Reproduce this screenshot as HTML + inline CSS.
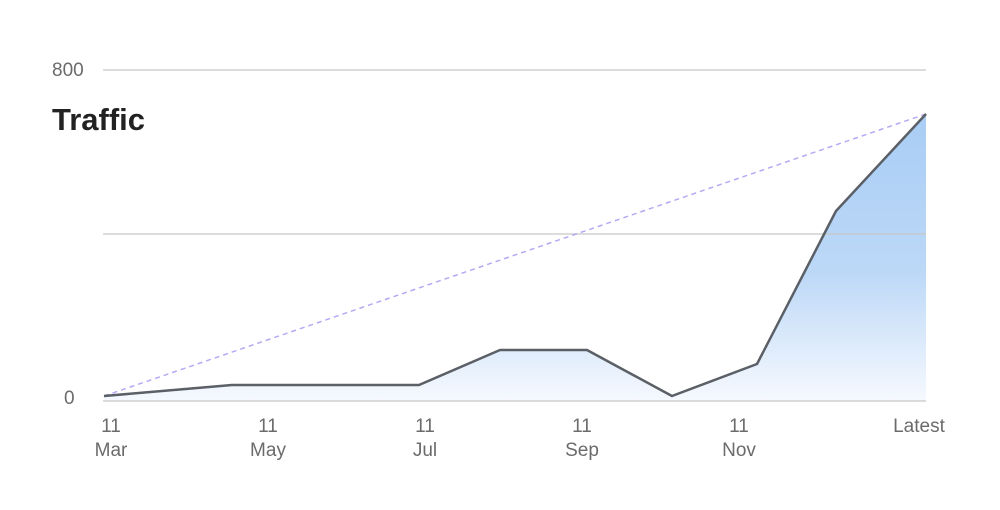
<!DOCTYPE html>
<html><head><meta charset="utf-8"><style>
html,body{margin:0;padding:0;background:#fff;width:1000px;height:510px;overflow:hidden}
text{font-family:"Liberation Sans",sans-serif}
</style></head><body>
<svg width="1000" height="510" viewBox="0 0 1000 510" xmlns="http://www.w3.org/2000/svg">
<defs>
<linearGradient id="g" x1="0" y1="114" x2="0" y2="401" gradientUnits="userSpaceOnUse">
<stop offset="0" stop-color="#a9cdf5"/>
<stop offset="0.55" stop-color="#bcd8f7"/>
<stop offset="1" stop-color="#f6f9fe"/>
</linearGradient>
</defs>
<path d="M104,396 L232,385 L419,385 L500,350 L587,350 L672,396 L757,364 L836,211 L926,114 L926,401 L104,401 Z" fill="url(#g)"/>
<g stroke="#c8c8c8" stroke-width="1.5" opacity="0.85">
<line x1="103" y1="70" x2="926" y2="70"/>
<line x1="103" y1="234" x2="926" y2="234"/>
<line x1="103" y1="401" x2="926" y2="401"/>
</g>
<line x1="104" y1="396" x2="926" y2="114" stroke="#b7a8f5" stroke-width="1.5" stroke-dasharray="5,4"/>
<polyline points="104,396 232,385 419,385 500,350 587,350 672,396 757,364 836,211 926,114" fill="none" stroke="#5b5f66" stroke-width="2.5" stroke-linejoin="round"/>
<text x="52" y="76" font-size="19" fill="#6b6b6b">800</text>
<text x="64" y="404" font-size="19" fill="#6b6b6b">0</text>
<text x="52" y="130" font-size="31" font-weight="bold" fill="#222">Traffic</text>
<g font-size="19" fill="#6b6b6b" text-anchor="middle">
<text x="111" y="432">11</text><text x="111" y="456">Mar</text>
<text x="268" y="432">11</text><text x="268" y="456">May</text>
<text x="425" y="432">11</text><text x="425" y="456">Jul</text>
<text x="582" y="432">11</text><text x="582" y="456">Sep</text>
<text x="739" y="432">11</text><text x="739" y="456">Nov</text>
<text x="919" y="432">Latest</text>
</g>
</svg>
</body></html>
